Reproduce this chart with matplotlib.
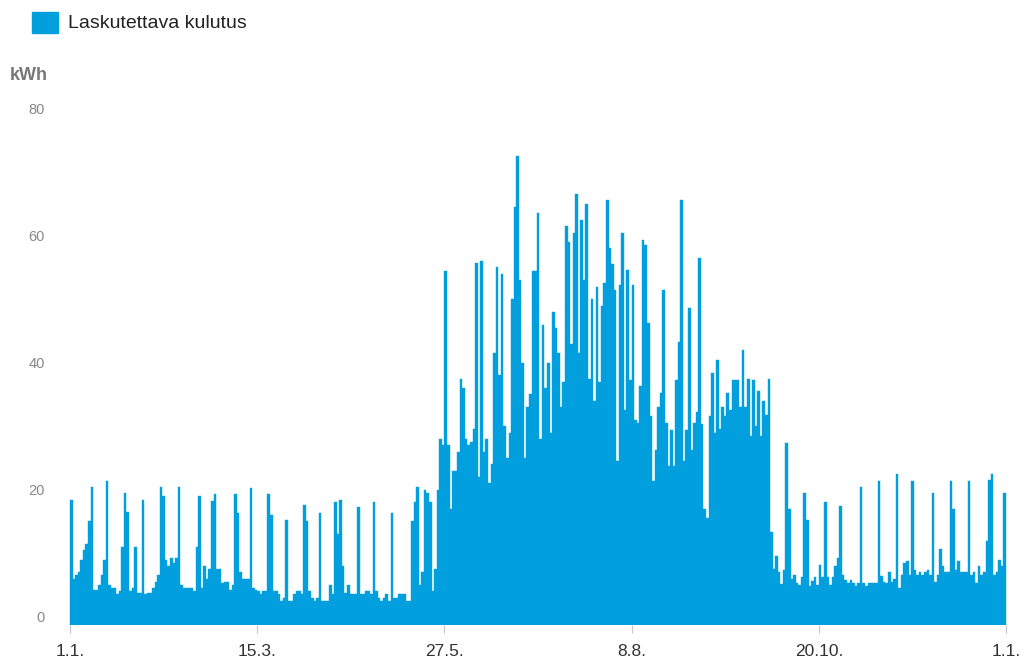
import numpy as np
import matplotlib
matplotlib.use("Agg")
import matplotlib.pyplot as plt
from matplotlib.transforms import ScaledTranslation

plt.rcParams['font.family'] = ['Liberation Sans', 'DejaVu Sans']

# daily billed consumption (kWh), one list per month
jan = [19.7, 7.3, 7.8, 8.3, 10.3, 11.8, 12.8, 16.3, 21.8, 5.5, 5.5, 6.3, 7.8, 10.3, 22.6, 6.3,
       5.8, 5.8, 4.8, 5.3, 12.3, 20.8, 17.8, 5.3, 5.8, 12.3, 5.1, 5.1, 19.7, 4.8, 5.1]
feb = [5.1, 5.8, 6.8, 7.8, 21.8, 20.3, 10.3, 9.3, 10.6, 9.8, 10.6, 21.8, 6.3, 5.8, 5.8, 5.8,
       5.8, 5.3, 12.3, 20.3, 5.8, 9.3, 7.3, 8.8, 19.5, 20.6, 8.8, 8.8]
mar = [6.6, 6.8, 6.8, 5.5, 6.3, 20.6, 17.6, 8.3, 7.3, 7.3, 7.3, 21.6, 5.8, 5.5, 5.3, 4.8,
       5.3, 5.3, 20.6, 17.3, 5.3, 5.3, 4.8, 3.8, 4.3, 16.6, 3.8, 3.8, 4.8, 5.3, 5.3]
apr = [4.8, 18.9, 16.3, 5.3, 4.3, 3.8, 4.3, 17.6, 3.8, 3.8, 3.8, 6.3, 4.8, 19.3, 14.3, 19.7,
       9.3, 5.0, 6.3, 4.8, 4.8, 4.8, 18.6, 4.8, 4.8, 5.3, 5.3, 4.8, 19.3, 5.3]
may = [4.3, 3.8, 4.3, 4.8, 3.8, 17.6, 4.3, 4.3, 4.8, 4.8, 4.8, 3.8, 3.8, 16.3, 19.3, 21.8,
       6.3, 8.3, 21.3, 20.8, 19.3, 5.3, 8.8, 21.3, 29.3, 28.3, 55.8, 28.3, 18.3, 24.3, 24.3]
jun = [27.3, 38.8, 37.3, 29.3, 28.3, 28.8, 30.8, 57.0, 23.3, 57.3, 27.3, 29.3, 22.3, 25.3, 42.8,
       56.3, 39.3, 55.3, 31.3, 26.3, 30.3, 51.3, 65.8, 73.8, 54.3, 41.3, 26.3, 34.3, 36.3, 55.8]
jul = [55.8, 64.8, 29.3, 47.3, 37.3, 41.3, 30.3, 49.3, 46.8, 42.8, 34.3, 38.3, 62.8, 60.3, 44.3,
       61.8, 67.8, 42.8, 63.8, 54.3, 66.3, 38.8, 51.3, 35.3, 53.3, 38.3, 50.3, 53.8, 67.0, 59.3, 56.8]
aug = [52.8, 25.8, 53.6, 61.7, 33.9, 55.9, 38.6, 53.6, 32.3, 31.8, 37.6, 60.7, 59.9, 47.5, 32.9,
       22.6, 27.6, 34.3, 36.5, 52.8, 31.8, 25.0, 30.7, 25.0, 38.6, 44.6, 67.0, 25.8, 30.7, 49.9, 27.6]
sep = [31.8, 33.6, 57.8, 31.7, 18.2, 16.9, 32.9, 39.7, 30.3, 41.8, 30.9, 34.3, 32.9, 36.5, 33.9,
       38.6, 38.6, 38.6, 34.3, 43.3, 34.3, 38.8, 29.7, 38.6, 31.3, 36.8, 29.7, 35.3, 33.1, 38.8]
oct_ = [14.7, 8.8, 10.8, 8.3, 6.5, 8.7, 28.7, 18.3, 7.3, 7.8, 6.6, 6.3, 7.6, 20.8, 16.6, 6.1,
        7.0, 7.6, 6.3, 9.5, 7.6, 19.4, 7.6, 6.3, 7.6, 9.3, 10.6, 18.7, 7.8, 7.1, 6.6]
nov = [7.1, 6.6, 6.1, 6.6, 21.8, 6.6, 6.1, 6.6, 6.6, 6.6, 6.6, 22.6, 7.7, 6.8, 6.6, 8.4,
       6.8, 7.3, 23.7, 5.8, 7.8, 9.8, 10.0, 7.8, 22.6, 8.7, 7.8, 8.4, 7.8, 8.3]
dec = [8.6, 7.8, 20.8, 6.8, 7.8, 11.9, 9.3, 8.3, 8.4, 22.6, 18.3, 8.6, 10.0, 8.4, 8.4, 8.4,
       22.6, 7.8, 8.4, 6.6, 9.3, 7.8, 8.4, 13.3, 22.9, 23.7, 7.8, 8.3, 10.3, 9.3, 20.8]

tick_days = [0, 73, 146, 219, 292, 365]
tick_labels = ['1.1.', '15.3.', '27.5.', '8.8.', '20.10.', '1.1.']
y_ticks = [0, 20, 40, 60, 80]

kulutus = np.array(jan + feb + mar + apr + may + jun + jul + aug + sep + oct_ + nov + dec)
days = np.arange(len(kulutus))

blue = '#019fde'

fig = plt.figure(figsize=(10.24, 6.65), dpi=100)
ax = fig.add_axes([0.0671, 0.0602, 0.9166, 0.7639])

ax.bar(days, kulutus, width=1.0, align='edge', color=blue,
       edgecolor=blue, linewidth=0.3)

ax.set_xlim(-0.5, 365.5)
ax.set_ylim(0, 80)

for s in ax.spines.values():
    s.set_visible(False)

ax.set_xticks(tick_days)
ax.set_xticklabels(tick_labels, fontsize=12.5, color='#333333')
ax.tick_params(axis='x', length=6, width=0.8, color='#c0c8d0', pad=8)

ax.set_yticks(y_ticks)
ax.set_yticklabels([str(v) for v in y_ticks], fontsize=10.5, color='#888888')
ax.tick_params(axis='y', length=0, pad=17)
# labels sit a little above their value line
for lab in ax.get_yticklabels():
    lab.set_transform(lab.get_transform() + ScaledTranslation(0, 8 / 100, fig.dpi_scale_trans))

fig.text(10 / 1024, 1 - 75 / 665, 'kWh', fontsize=13, fontweight='bold',
         color='#777777', va='center', ha='left')

# legend
fig.patches.append(plt.Rectangle((32 / 1024, 1 - 33 / 665), 26 / 1024, 21 / 665,
                                 transform=fig.transFigure, color=blue))
fig.text(68 / 1024, 1 - 24 / 665, 'Laskutettava kulutus', fontsize=14,
         color='#222222', va='center', ha='left')

fig.savefig('out.png', dpi=100)
